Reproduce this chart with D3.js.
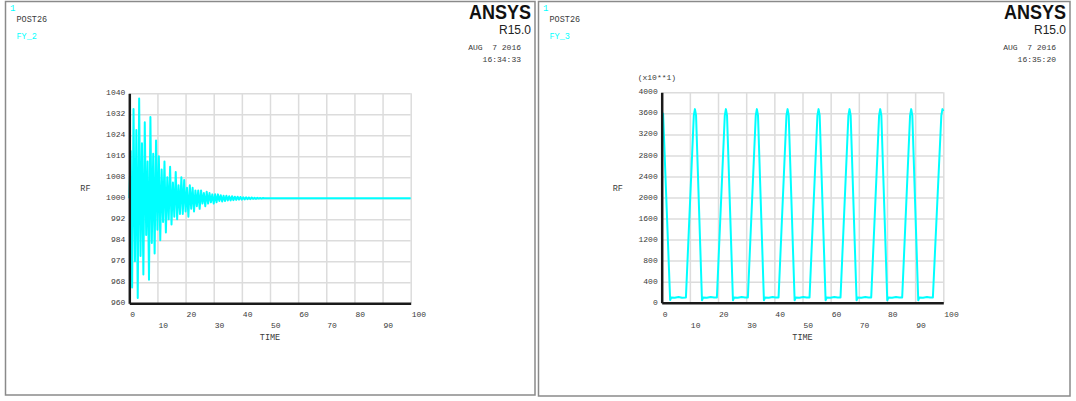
<!DOCTYPE html>
<html>
<head>
<meta charset="utf-8">
<script src="https://cdn.jsdelivr.net/npm/d3@7"></script>
<style>
  body { margin: 0; background: #fff; }
  svg { display: block; }
</style>
</head>
<body>
<svg id="chart" width="1076" height="401"></svg>
<script>
// ---- data ----
const timeTicks = [0, 10, 20, 30, 40, 50, 60, 70, 80, 90, 100];

// FY_2 : reaction force, sampled every 0.5 s up to t = 50, then flat
const fy2Step = 0.5;
const fy2Values = [
  1000, 1018, 966, 1034, 976, 1026, 962, 1038, 978, 1021,
  971, 1029, 986, 1014, 969, 1031, 983, 1017, 979, 1022,
  988, 1016, 984, 1011, 991, 1014, 987, 1008, 992, 1012,
  990, 1006, 993, 1010, 992, 1005, 994, 1008, 994, 1007,
  995, 1004, 993, 1005, 996, 1004, 995, 1003, 997, 1003,
  996, 1003, 998, 1002, 997, 1002.5, 998, 1002, 998.5, 1001.5,
  998, 1001.5, 998.5, 1001.5, 999, 1001.2, 998.8, 1001, 999, 1001,
  999.2, 1000.8, 999.2, 1000.8, 999.3, 1000.6, 999.4, 1000.6, 999.5, 1000.5,
  999.5, 1000.4, 999.6, 1000.4, 999.7, 1000.3, 999.7, 1000.3, 999.8, 1000.2,
  999.8, 1000.2, 999.9, 1000.1, 999.9, 1000.1, 1000, 1000, 1000, 1000,
  1000
];
const fy2EndTime = 100;
const fy2EndValue = 1000;
const fy2Ticks = [960, 968, 976, 984, 992, 1000, 1008, 1016, 1024, 1032, 1040];

// FY_3 : values in units of x10**1
const fy3Time = [
  0, 0.5, 3.0, 3.4, 4.6, 6.0, 7.2, 8.6,
  11.4, 11.8, 12.2, 14.3, 14.7, 16.0, 17.4, 18.6, 19.6,
  22.4, 22.8, 23.2, 25.3, 25.7, 27.0, 28.4, 29.6, 30.6,
  33.4, 33.8, 34.2, 36.3, 36.7, 38.0, 39.4, 40.5, 41.5,
  44.3, 44.7, 45.1, 47.2, 47.6, 48.9, 50.3, 51.5, 52.5,
  55.3, 55.7, 56.1, 58.2, 58.6, 59.9, 61.3, 62.5, 63.5,
  66.3, 66.7, 67.1, 69.2, 69.6, 70.9, 72.3, 73.4, 74.4,
  77.2, 77.6, 78.0, 80.1, 80.5, 81.8, 83.2, 84.4, 85.4,
  88.2, 88.6, 89.0, 91.1, 91.5, 92.8, 94.2, 95.3, 96.3,
  99.3, 99.7, 100
];
const fy3Values = [
  3620, 3590, 50, 100, 95, 110, 95, 100,
  3560, 3680, 3560, 45, 100, 95, 110, 100, 100,
  3560, 3680, 3560, 45, 100, 95, 110, 100, 100,
  3560, 3680, 3560, 45, 100, 95, 110, 100, 100,
  3560, 3680, 3560, 45, 100, 95, 110, 100, 100,
  3560, 3680, 3560, 45, 100, 95, 110, 100, 100,
  3560, 3680, 3560, 45, 100, 95, 110, 100, 100,
  3560, 3680, 3560, 45, 100, 95, 110, 100, 100,
  3560, 3680, 3560, 45, 100, 95, 110, 100, 100,
  3560, 3680, 3640
];
const fy3Ticks = [0, 400, 800, 1200, 1600, 2000, 2400, 2800, 3200, 3600, 4000];

const fy2Points = fy2Values.map((v, i) => [i * fy2Step, v]).concat([[fy2EndTime, fy2EndValue]]);
const fy3Points = fy3Time.map((t, i) => [t, fy3Values[i]]);

const panels = [
  {
    box: {x: 5.5, y: 1.5, w: 529.5, h: 393.5},
    plot: {left: 129.3, top: 93.3, width: 281.4, height: 210},
    name: "FY_2", clock: "16:34:33",
    yDomain: [960, 1040], yTicks: fy2Ticks, points: fy2Points, scaleNote: null
  },
  {
    box: {x: 538.5, y: 1.5, w: 531.5, h: 394.5},
    plot: {left: 661.7, top: 92.3, width: 281.6, height: 210.4},
    name: "FY_3", clock: "16:35:20",
    yDomain: [0, 4000], yTicks: fy3Ticks, points: fy3Points, scaleNote: "(x10**1)"
  }
];

const mono = '"Liberation Mono", "DejaVu Sans Mono", monospace';
const cyan = "#00ffff";
const ink = "#3a3a3a";
const svg = d3.select("#chart");

svg.append("rect").attr("width", 1076).attr("height", 401).attr("fill", "#fff");

panels.forEach(p => {
  const g = svg.append("g");
  const b = p.box;

  g.append("rect")
    .attr("x", b.x).attr("y", b.y).attr("width", b.w).attr("height", b.h)
    .attr("fill", "#fff").attr("stroke", "#8a8a8a").attr("stroke-width", 1.5);

  // header
  const right = b.x + b.w - 4;
  g.append("text").attr("x", b.x + 4.5).attr("y", 10.5)
    .style("font", `9px ${mono}`).attr("fill", cyan).text("1");
  g.append("text").attr("x", b.x + 11).attr("y", 21.5)
    .style("font", `8.5px ${mono}`).attr("fill", ink).text("POST26");
  g.append("text").attr("x", b.x + 11).attr("y", 38.5)
    .style("font", `8.5px ${mono}`).attr("fill", cyan).text(p.name);
  g.append("text").attr("x", right).attr("y", 19).attr("text-anchor", "end")
    .attr("textLength", 62).attr("lengthAdjust", "spacingAndGlyphs")
    .style("font", 'bold 20px "Liberation Sans", Arial, sans-serif').attr("fill", "#111").text("ANSYS");
  g.append("text").attr("x", right).attr("y", 33.5).attr("text-anchor", "end")
    .style("font", '12px "Liberation Sans", Arial, sans-serif').attr("fill", "#222").text("R15.0");
  g.append("text").attr("x", right - 10).attr("y", 49.5).attr("text-anchor", "end")
    .style("font", `8px ${mono}`).style("white-space", "pre").attr("fill", ink).text("AUG  7 2016");
  g.append("text").attr("x", right - 10).attr("y", 61.5).attr("text-anchor", "end")
    .style("font", `8px ${mono}`).attr("fill", ink).text(p.clock);

  // plot
  const pl = p.plot;
  const x = d3.scaleLinear().domain([0, 100]).range([pl.left, pl.left + pl.width]);
  const y = d3.scaleLinear().domain(p.yDomain).range([pl.top + pl.height, pl.top]);

  // grid
  const gridX = g.append("g")
    .attr("transform", `translate(0,${pl.top + pl.height})`)
    .call(d3.axisBottom(x).tickValues(timeTicks).tickSize(-pl.height).tickFormat(""));
  const gridY = g.append("g")
    .attr("transform", `translate(${pl.left},0)`)
    .call(d3.axisLeft(y).tickValues(p.yTicks).tickSize(-pl.width).tickFormat(""));
  [gridX, gridY].forEach(gr => {
    gr.select(".domain").remove();
    gr.selectAll("line").attr("stroke", "#dcdcdc").attr("stroke-width", 1.5);
  });

  // data
  const line = d3.line().x(d => x(d[0])).y(d => y(d[1]));
  g.append("path")
    .datum(p.points)
    .attr("d", line)
    .attr("fill", "none")
    .attr("stroke", cyan)
    .attr("stroke-width", 2)
    .attr("stroke-linejoin", "round");

  // axes
  const xAxis = g.append("g")
    .attr("transform", `translate(0,${pl.top + pl.height})`)
    .call(d3.axisBottom(x).tickValues(timeTicks).tickFormat(d3.format("d")).tickSize(0).tickSizeOuter(0));
  xAxis.selectAll("text")
    .attr("text-anchor", "start")
    .attr("dy", 0)
    .attr("y", (d, i) => i % 2 ? 25 : 14)
    .attr("x", 0.5);

  const yAxis = g.append("g")
    .attr("transform", `translate(${pl.left},0)`)
    .call(d3.axisLeft(y).tickValues(p.yTicks).tickFormat(d3.format("d")).tickSize(0).tickSizeOuter(0).tickPadding(4));
  yAxis.selectAll("text").attr("dy", "0.2em");

  [xAxis, yAxis].forEach(ax => {
    ax.select(".domain").attr("stroke", "#1a1a1a").attr("stroke-width", 2.5);
    ax.selectAll("text").style("font", `8px ${mono}`).attr("fill", ink);
  });

  g.append("text")
    .attr("x", (x(0) + x(100)) / 2).attr("y", pl.top + pl.height + 37)
    .attr("text-anchor", "middle")
    .style("font", `8.5px ${mono}`).attr("fill", ink).text("TIME");
  g.append("text")
    .attr("x", pl.left - 49).attr("y", pl.top + pl.height / 2 - 7)
    .style("font", `8.5px ${mono}`).attr("fill", ink).text("RF");

  if (p.scaleNote) {
    g.append("text")
      .attr("x", pl.left - 24).attr("y", pl.top - 12.8)
      .style("font", `8px ${mono}`).attr("fill", ink).text(p.scaleNote);
  }
});
</script>
</body>
</html>
